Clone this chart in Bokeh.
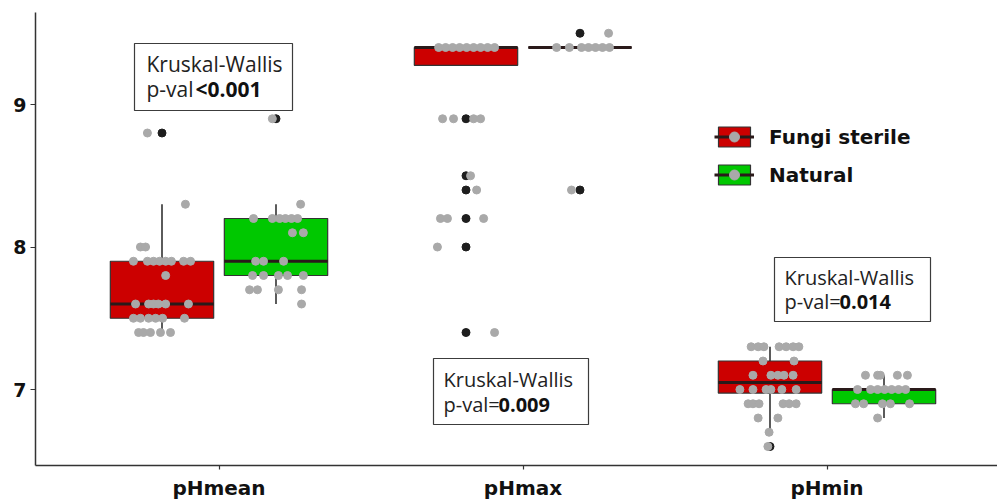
from bokeh.plotting import figure
from bokeh.models import Range1d, FixedTicker, Legend, LegendItem, BoxAnnotation, Label
from bokeh.embed import file_html
from bokeh.resources import INLINE

# ---------------- data ----------------
categories = ["pHmean", "pHmax", "pHmin"]
groups = ["Fungi sterile", "Natural"]

# box statistics per category
fungi_lo = [7.4, 9.275, 6.7]
fungi_q1 = [7.5, 9.275, 6.975]
fungi_med = [7.6, 9.4, 7.05]
fungi_q3 = [7.9, 9.4, 7.2]
fungi_hi = [8.3, 9.4, 7.3]

natural_lo = [7.6, 9.4, 6.8]
natural_q1 = [7.8, 9.4, 6.9]
natural_med = [7.9, 9.4, 7.0]
natural_q3 = [8.2, 9.4, 7.0]
natural_hi = [8.3, 9.4, 7.1]

# outliers (category, value)
fungi_out_cat = ["pHmean", "pHmax", "pHmax", "pHmax", "pHmax", "pHmax", "pHmax", "pHmin"]
fungi_out_val = [8.8, 8.9, 8.5, 8.4, 8.2, 8.0, 7.4, 6.6]
natural_out_cat = ["pHmean", "pHmax", "pHmax"]
natural_out_val = [8.9, 9.5, 8.4]

# raw observations (values) and their horizontal jitter (category units)
mean_fungi = [8.8, 8.3, 8.0, 8.0, 7.9, 7.9, 7.9, 7.9, 7.9, 7.9, 7.9, 7.9, 7.8,
              7.6, 7.6, 7.6, 7.6, 7.6, 7.6, 7.5, 7.5, 7.5, 7.5, 7.5, 7.5,
              7.4, 7.4, 7.4, 7.4, 7.4]
mean_fungi_jit = [-0.048, 0.077, -0.071, -0.054, -0.094, -0.048, -0.028, -0.008, 0.012, 0.031,
                  0.071, 0.094, 0.012, -0.087, -0.044, -0.028, -0.012, 0.012, 0.087,
                  -0.094, -0.071, -0.044, -0.021, 0.002, 0.074,
                  -0.077, -0.061, -0.038, -0.005, 0.028]
mean_natural = [8.9, 8.3, 8.2, 8.2, 8.2, 8.2, 8.2, 8.2, 8.1, 8.1, 7.9, 7.9, 7.9,
                7.8, 7.8, 7.8, 7.8, 7.8, 7.7, 7.7, 7.7, 7.7, 7.6]
mean_natural_jit = [-0.012, 0.081, -0.074, -0.012, 0.012, 0.031, 0.051, 0.071, 0.054, 0.090,
                    -0.067, -0.041, 0.025, -0.077, -0.041, 0.008, 0.038, 0.090,
                    -0.087, -0.061, 0.008, 0.084, 0.084]
max_fungi = [9.4, 9.4, 9.4, 9.4, 9.4, 9.4, 9.4, 9.4, 9.4, 8.9, 8.9, 8.9, 8.9,
             8.5, 8.4, 8.2, 8.2, 8.2, 8.0, 7.4]
max_fungi_jit = [-0.090, -0.067, -0.044, -0.021, 0.002, 0.025, 0.048, 0.071, 0.094,
                 -0.077, -0.041, 0.025, 0.048, 0.015, 0.035, -0.084, -0.061, 0.058,
                 -0.094, 0.094]
max_natural = [9.4, 9.4, 9.4, 9.4, 9.4, 9.4, 9.4, 9.5, 8.4]
max_natural_jit = [-0.077, -0.035, 0.005, 0.028, 0.051, 0.074, 0.097, 0.094, -0.028]
min_fungi = [7.3, 7.3, 7.3, 7.3, 7.3, 7.3, 7.3, 7.2, 7.2, 7.1, 7.1, 7.1, 7.1, 7.1,
             7.0, 7.0, 7.0, 7.0, 7.0, 7.0, 6.9, 6.9, 6.9, 6.9, 6.9, 6.9,
             6.8, 6.8, 6.7, 6.6]
min_fungi_jit = [-0.062, -0.039, -0.020, 0.030, 0.053, 0.076, 0.095, -0.023, 0.079,
                 -0.056, 0.003, 0.026, 0.046, 0.076,
                 -0.099, -0.056, -0.013, 0.003, 0.039, 0.086,
                 -0.072, -0.056, -0.036, 0.043, 0.063, 0.086,
                 -0.039, 0.026, -0.003, -0.007]
min_natural = [7.1, 7.1, 7.1, 7.1, 7.1, 7.0, 7.0, 7.0, 7.0, 7.0, 7.0, 7.0,
               6.9, 6.9, 6.9, 6.9, 6.9, 6.8]
min_natural_jit = [-0.061, -0.021, -0.012, 0.044, 0.077,
                   -0.087, -0.044, -0.021, 0.002, 0.025, 0.048, 0.071,
                   -0.094, -0.067, -0.005, 0.021, 0.084, -0.021]

y_ticks = [7, 8, 9]
stat_labels = [("Kruskal-Wallis", "p-val", "<0.001"),
               ("Kruskal-Wallis", "p-val=", "0.009"),
               ("Kruskal-Wallis", "p-val=", "0.014")]

# ---------------- styling / layout ----------------
RED = "#CC0000"
GREEN = "#00C800"
EDGE = "#333333"
PT_GRAY = "#A9A9A9"
OUT_BLACK = "#1E1E1E"
DODGE = 0.1875
BOX_W = 0.34

# pixel helpers for annotation placement (frame: x 35..997, y 12..465 on the canvas)
def dx(px):
    return 1 + (px - 218.5) / 304.0

def dy(py):
    return 9 - (py - 104) / 142.5

p = figure(width=997, height=504, output_backend="svg", toolbar_location=None,
           x_range=Range1d(dx(35), dx(997)), y_range=Range1d(dy(465), dy(12)),
           min_border_left=35, min_border_right=0, min_border_top=12, min_border_bottom=39)
p.outline_line_color = None
p.xgrid.grid_line_color = None
p.ygrid.grid_line_color = None
p.background_fill_color = "white"

cat_x = {c: i + 1 for i, c in enumerate(categories)}

def draw_group(offset, lo, q1, med, q3, hi, color, out_cat, out_val, obs):
    xs = [cat_x[c] + offset for c in categories]
    # whiskers
    p.segment(x0=xs, x1=xs, y0=lo, y1=q1, line_color=EDGE, line_width=1.6)
    p.segment(x0=xs, x1=xs, y0=q3, y1=hi, line_color=EDGE, line_width=1.6)
    box = p.vbar(x=xs, width=BOX_W, bottom=q1, top=q3, fill_color=color,
                 line_color=EDGE, line_width=1.2)
    med_r = p.segment(x0=[x - BOX_W / 2 for x in xs], x1=[x + BOX_W / 2 for x in xs],
                      y0=med, y1=med, line_color="#2a1a1a", line_width=3)
    p.scatter(x=[cat_x[c] + offset for c in out_cat], y=out_val, size=8,
              fill_color=OUT_BLACK, line_color=OUT_BLACK)
    px_all, py_all = [], []
    for c, (vals, jit) in zip(categories, obs):
        px_all += [cat_x[c] + offset + j for j in jit]
        py_all += vals
    pts = p.scatter(x=px_all, y=py_all, size=8, fill_color=PT_GRAY, line_color=PT_GRAY)
    return box, med_r, pts

f_box, f_med, f_pts = draw_group(-DODGE, fungi_lo, fungi_q1, fungi_med, fungi_q3, fungi_hi,
                                 RED, fungi_out_cat, fungi_out_val,
                                 [(mean_fungi, mean_fungi_jit), (max_fungi, max_fungi_jit),
                                  (min_fungi, min_fungi_jit)])
n_box, n_med, n_pts = draw_group(DODGE, natural_lo, natural_q1, natural_med, natural_q3, natural_hi,
                                 GREEN, natural_out_cat, natural_out_val,
                                 [(mean_natural, mean_natural_jit), (max_natural, max_natural_jit),
                                  (min_natural, min_natural_jit)])

# axes
p.xaxis.ticker = FixedTicker(ticks=[cat_x[c] for c in categories])
p.xaxis.major_label_overrides = {cat_x[c]: c for c in categories}
p.yaxis.ticker = FixedTicker(ticks=y_ticks)
for ax in (p.xaxis, p.yaxis):
    ax.axis_line_color = EDGE
    ax.axis_line_width = 1.5
    ax.major_tick_line_color = EDGE
    ax.major_tick_line_width = 1.2
    ax.major_tick_in = 0
    ax.minor_tick_line_color = None
    ax.major_label_text_font = "DejaVu Sans"
    ax.major_label_text_font_style = "bold"
    ax.major_label_text_color = "#111111"
p.xaxis.major_tick_out = 4
p.yaxis.major_tick_out = 5
p.xaxis.major_label_text_font_size = "20px"
p.yaxis.major_label_text_font_size = "19px"
p.xaxis.major_label_standoff = 6
p.yaxis.major_label_standoff = 4

# legend (location = bottom-left corner, measured from the frame's bottom-left)
legend = Legend(items=[LegendItem(label=groups[0], renderers=[f_box, f_med, f_pts]),
                       LegendItem(label=groups[1], renderers=[n_box, n_med, n_pts])],
                location=(679, 278), orientation="vertical",
                glyph_width=40, glyph_height=25, label_standoff=15, spacing=13,
                padding=0, margin=0, border_line_color=None, background_fill_alpha=0,
                label_text_font="DejaVu Sans", label_text_font_style="bold",
                label_text_font_size="20px", label_text_color="#111111")
p.add_layout(legend, "center")

# Kruskal-Wallis annotation boxes
# (left, right, top, bottom, text x, line1 y, line2 y, bold x, font size)
boxes = [(134, 292, 43, 110, 146, 63, 88, 195, "21px"),
         (433, 588, 358, 424, 443, 379, 404, 498, "20px"),
         (774, 930, 257, 321, 784, 277, 301, 839, "20px")]
for (l, r, t, b, tx, ty1, ty2, bx, fs), (line1, pre, bold) in zip(boxes, stat_labels):
    p.add_layout(BoxAnnotation(left=dx(l), right=dx(r), top=dy(t), bottom=dy(b),
                               fill_color="white", fill_alpha=1.0,
                               line_color="#3c3c3c", line_width=1.2, line_alpha=1.0))
    p.add_layout(Label(x=dx(tx), y=dy(ty1), text=line1, text_font="Open Sans",
                       text_font_size=fs, text_baseline="middle", text_color="#222222"))
    p.add_layout(Label(x=dx(tx), y=dy(ty2), text=pre, text_font="Open Sans",
                       text_font_size=fs, text_baseline="middle", text_color="#222222"))
    p.add_layout(Label(x=dx(bx), y=dy(ty2), text=bold, text_font="Open Sans",
                       text_font_style="bold", text_font_size=fs,
                       text_baseline="middle", text_color="#111111"))

open("out.html", "w").write(file_html(p, INLINE))
